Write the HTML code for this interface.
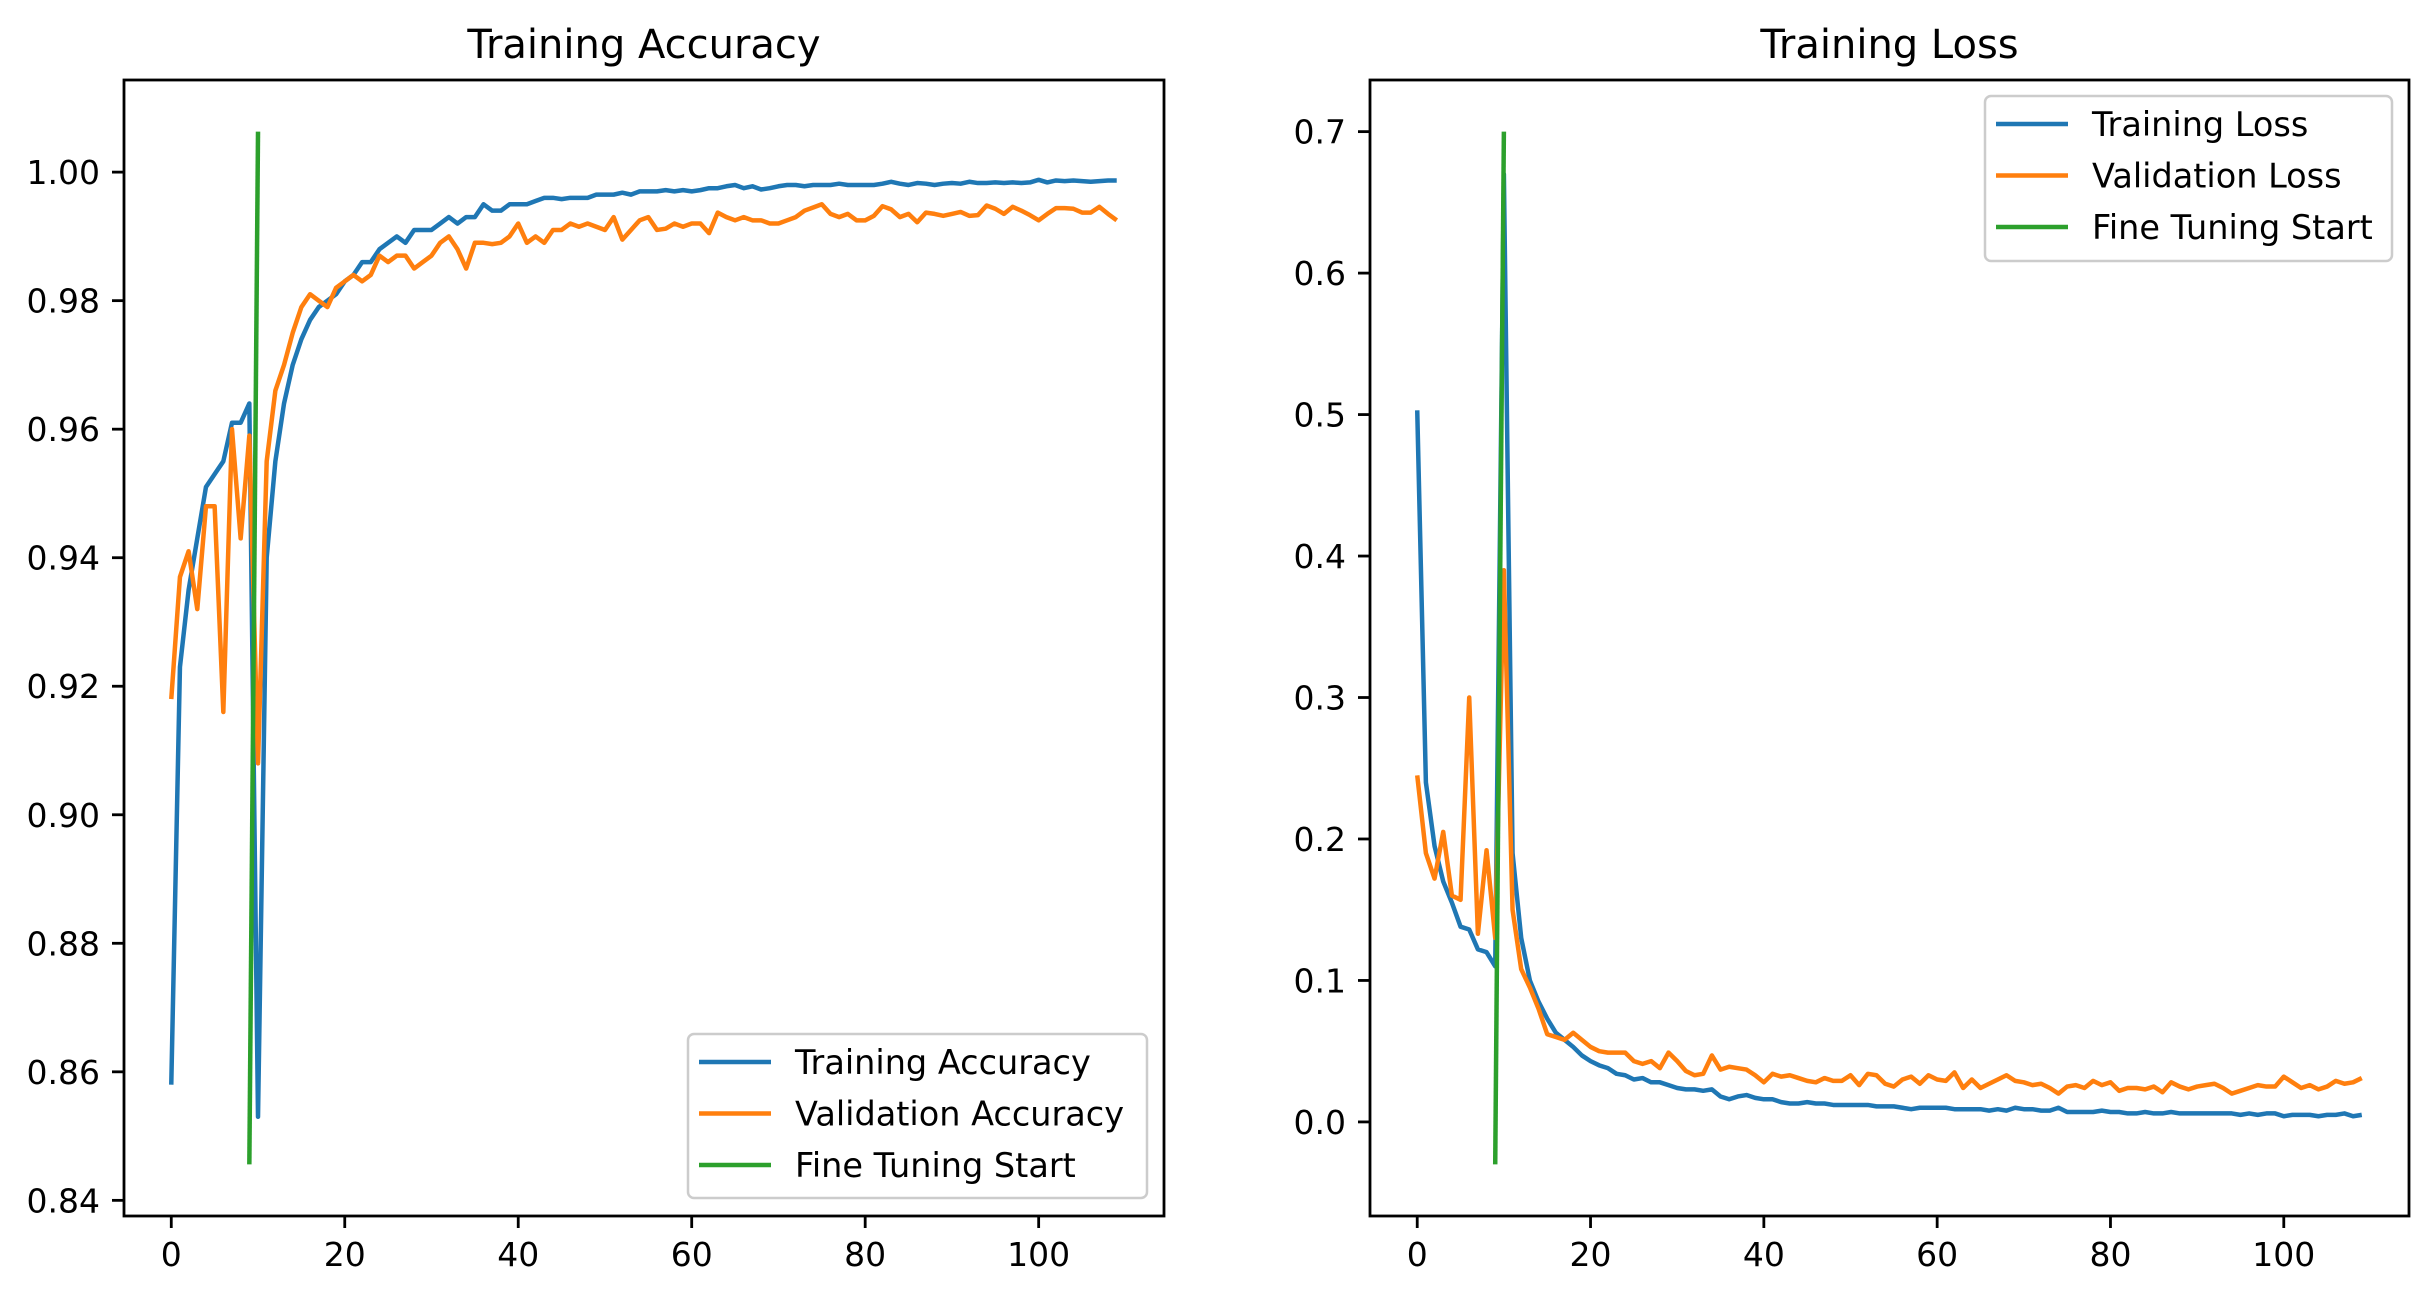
<!DOCTYPE html>
<html><head><meta charset="utf-8"><style>
html,body{margin:0;padding:0;background:#fff;}
svg{display:block;font-family:"DejaVu Sans","Liberation Sans",sans-serif;}
</style></head><body>
<svg id="fig" width="2435" height="1299" viewBox="0 0 2435 1299" xmlns="http://www.w3.org/2000/svg">
<rect width="2435" height="1299" fill="#fff"/>
</svg>
<script>
const epochs = Array.from({length:110},(_, i)=>i);
const trainAcc = [.858,.923,.935,.943,.951,.953,.955,.961,.961,.964,
.853,.940,.955,.964,.970,.974,.977,.979,.980,.981,
.983,.984,.986,.986,.988,.989,.990,.989,.991,.991,
.991,.992,.993,.992,.993,.993,.995,.994,.994,.995,
.995,.995,.9955,.996,.996,.9958,.996,.996,.996,.9965,
.9965,.9965,.9968,.9965,.997,.997,.997,.9972,.997,.9972,
.997,.9972,.9975,.9975,.9978,.998,.9975,.9978,.9973,.9975,
.9978,.998,.998,.9978,.998,.998,.998,.9982,.998,.998,
.998,.998,.9982,.9985,.9982,.998,.9983,.9982,.998,.9982,
.9983,.9982,.9985,.9983,.9983,.9984,.9983,.9984,.9983,.9984,
.9988,.9984,.9987,.9986,.9987,.9986,.9985,.9986,.9987,.9987];
const valAcc = [.918,.937,.941,.932,.948,.948,.916,.960,.943,.959,
.908,.955,.966,.970,.975,.979,.981,.980,.979,.982,
.983,.984,.983,.984,.987,.986,.987,.987,.985,.986,
.987,.989,.990,.988,.985,.989,.989,.9888,.989,.990,
.992,.989,.990,.989,.991,.991,.992,.9915,.992,.9915,
.991,.993,.9895,.991,.9925,.993,.991,.9912,.992,.9915,
.992,.992,.9905,.9937,.993,.9925,.993,.9925,.9925,.992,
.992,.9925,.993,.994,.9945,.995,.9935,.993,.9935,.9925,
.9925,.9932,.9947,.9942,.993,.9935,.9922,.9937,.9935,.9932,
.9935,.9938,.9932,.9933,.9948,.9943,.9935,.9946,.994,.9933,
.9925,.9935,.9944,.9944,.9943,.9937,.9937,.9946,.9935,.9925];
const trainLoss = [.503,.24,.195,.17,.155,.138,.136,.122,.12,.11,
.67,.19,.13,.10,.085,.073,.063,.058,.053,.047,
.043,.040,.038,.034,.033,.030,.031,.028,.028,.026,
.024,.023,.023,.022,.023,.018,.016,.018,.019,.017,
.016,.016,.014,.013,.013,.014,.013,.013,.012,.012,
.012,.012,.012,.011,.011,.011,.010,.009,.010,.010,
.010,.010,.009,.009,.009,.009,.008,.009,.008,.010,
.009,.009,.008,.008,.010,.007,.007,.007,.007,.008,
.007,.007,.006,.006,.007,.006,.006,.007,.006,.006,
.006,.006,.006,.006,.006,.005,.006,.005,.006,.006,
.004,.005,.005,.005,.004,.005,.005,.006,.004,.005];
const valLoss = [.245,.19,.172,.205,.16,.157,.30,.133,.192,.13,
.39,.15,.108,.095,.08,.062,.06,.058,.063,.058,
.053,.05,.049,.049,.049,.043,.041,.043,.038,.049,
.043,.036,.033,.034,.047,.037,.039,.038,.037,.033,
.028,.034,.032,.033,.031,.029,.028,.031,.029,.029,
.033,.026,.034,.033,.027,.025,.030,.032,.027,.033,
.030,.029,.035,.024,.030,.024,.027,.030,.033,.029,
.028,.026,.027,.024,.020,.025,.026,.024,.029,.026,
.028,.022,.024,.024,.023,.025,.021,.028,.025,.023,
.025,.026,.027,.024,.020,.022,.024,.026,.025,.025,
.032,.028,.024,.026,.023,.025,.029,.027,.028,.031];
const fineAccX = [9,10];
const fineAccY = [0.8456,1.0063];
const fineLossX = [9,10];
const fineLossY = [-0.03,0.70];
const xTicks = [0,20,40,60,80,100];
const accTicks = [0.84,0.86,0.88,0.90,0.92,0.94,0.96,0.98,1.00];
const lossTicks = [0.0,0.1,0.2,0.3,0.4,0.5,0.6,0.7];
const accLegend = ["Training Accuracy","Validation Accuracy","Fine Tuning Start"];
const lossLegend = ["Training Loss","Validation Loss","Fine Tuning Start"];
const colors = ["#1f77b4","#ff7f0e","#2ca02c"];

const NS="http://www.w3.org/2000/svg";
const svg=document.getElementById('fig');
function mk(tag,attrs,parent){const e=document.createElementNS(NS,tag);for(const k in attrs)e.setAttribute(k,attrs[k]);(parent||svg).appendChild(e);return e;}

function panel(cfg){
  const g=mk('g',{});
  
  
  const L=cfg.left,R=cfg.right,T=80,B=1216;
  const xmin=-5.45,xmax=114.45;
  const all=[...cfg.s1,...cfg.s2,...cfg.fy];
  let ymn=Math.min(...all),ymx=Math.max(...all);const m=(ymx-ymn)*0.05;ymn-=m;ymx+=m;
  const X=v=>L+(v-xmin)/(xmax-xmin)*(R-L);
  const Y=v=>B-(v-ymn)/(ymx-ymn)*(B-T);
  const path=(xs,ys)=>xs.map((x,i)=>(i?'L':'M')+X(x).toFixed(2)+' '+Y(ys[i]).toFixed(2)).join(' ');
  const clip='clip-'+cfg.name;
  const cp=mk('clipPath',{id:clip},g);mk('rect',{x:L,y:T,width:R-L,height:B-T},cp);
  const p1=mk('path',{d:path(epochs,cfg.s1),fill:'none',stroke:colors[0],'stroke-width':4.5,'stroke-linejoin':'round','clip-path':`url(#${clip})`},g);
  
  
  const p2=mk('path',{d:path(epochs,cfg.s2),fill:'none',stroke:colors[1],'stroke-width':4.5,'stroke-linejoin':'round','clip-path':`url(#${clip})`},g);
  
  
  const p3=mk('path',{d:path(cfg.fx,cfg.fy),fill:'none',stroke:colors[2],'stroke-width':4.5,'clip-path':`url(#${clip})`},g);
  
  
  const fr=mk('rect',{x:L,y:T,width:R-L,height:B-T,fill:'none',stroke:'#000','stroke-width':2.8},g);
  
  
  xTicks.forEach(t=>{const x=X(t);mk('line',{x1:x,y1:B,x2:x,y2:B+12,stroke:'#000','stroke-width':2.8},g);
    const tx=mk('text',{x:x,y:B+50,'font-size':33,'text-anchor':'middle',fill:'#000'},g);tx.textContent=String(t);
    
    });
  cfg.yt.forEach(t=>{const y=Y(t);mk('line',{x1:L-12,y1:y,x2:L,y2:y,stroke:'#000','stroke-width':2.8},g);
    const tx=mk('text',{x:L-24,y:y+12,'font-size':33,'text-anchor':'end',fill:'#000'},g);tx.textContent=t.toFixed(cfg.dec);
    
    });
  const ti=mk('text',{x:(L+R)/2,y:58,'font-size':40,'text-anchor':'middle',fill:'#000'},g);ti.textContent=cfg.title;
  
  
  const lg=mk('g',{},g);
  
  
  const lb=cfg.lbox;
  mk('rect',{x:lb[0],y:lb[1],width:lb[2],height:lb[3],rx:6,fill:'#fff','fill-opacity':0.8,stroke:'#cccccc','stroke-width':2.5},lg);
  cfg.labels.forEach((s,i)=>{const y=lb[1]+28+i*51.5;
    mk('line',{x1:lb[0]+11,y1:y,x2:lb[0]+83,y2:y,stroke:colors[i],'stroke-width':4.5},lg);
    const t=mk('text',{x:lb[0]+107,y:y+12,'font-size':33.5,fill:'#000'},lg);t.textContent=s;
    
    });
}
panel({name:'accuracy-chart',left:124,right:1164,s1:trainAcc,s2:valAcc,fx:fineAccX,fy:fineAccY,yt:accTicks,dec:2,title:'Training Accuracy',labels:accLegend,lbox:[688,1034,459,164]});
panel({name:'loss-chart',left:1370,right:2409,s1:trainLoss,s2:valLoss,fx:fineLossX,fy:fineLossY,yt:lossTicks,dec:1,title:'Training Loss',labels:lossLegend,lbox:[1985,96,407,165]});
</script>
</body></html>
